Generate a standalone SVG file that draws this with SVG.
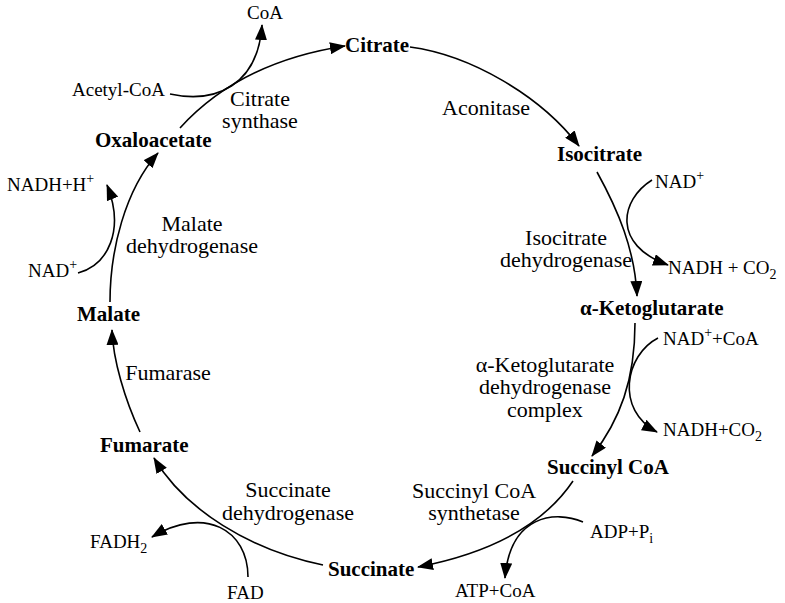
<svg xmlns="http://www.w3.org/2000/svg" width="785" height="603" viewBox="0 0 785 603">
<style>
text{font-family:"Liberation Serif","Times New Roman",serif;fill:#000}
.n{font-weight:bold;font-size:21px}
.e{font-size:22px;text-anchor:middle}
.s{font-size:19px}
.sub{font-size:14px}
path{fill:none;stroke:#000;stroke-width:1.6}
</style>
<defs>
<marker id="a" markerUnits="userSpaceOnUse" markerWidth="16" markerHeight="12" refX="15" refY="6" orient="auto">
<path d="M0,0 L16,6 L0,12 Z" style="fill:#000;stroke:none"/>
</marker>
</defs>
<rect width="785" height="603" fill="#fff"/>
<g id="connectors">
<path d="M180,128 Q240,62 345,46" marker-end="url(#a)"/>
<path d="M170,94 C216,104 258,85 262,25" marker-end="url(#a)"/>
<path d="M410,47 C470,55 540,95 579,146" marker-end="url(#a)"/>
<path d="M597,172 C618,210 635,250 637,296" marker-end="url(#a)"/>
<path d="M652,180 C620,200 612,245 668,265" marker-end="url(#a)"/>
<path d="M635,323 C635,380 620,420 592,456" marker-end="url(#a)"/>
<path d="M658,338 C625,355 615,410 657,432" marker-end="url(#a)"/>
<path d="M573,481 C540,530 480,555 418,567" marker-end="url(#a)"/>
<path d="M583,522 C555,510 510,515 505,578" marker-end="url(#a)"/>
<path d="M323,565 C250,550 185,510 154,458" marker-end="url(#a)"/>
<path d="M248,577 C248,530 205,505 152,537" marker-end="url(#a)"/>
<path d="M140,432 C125,400 113,360 112,330" marker-end="url(#a)"/>
<path d="M110,302 C110,250 125,190 158,153" marker-end="url(#a)"/>
<path d="M78,273 C108,265 125,230 107,185" marker-end="url(#a)"/>
</g>
<g id="citrate"><text class="n" x="345" y="52">Citrate</text></g>
<g id="isocitrate"><text class="n" x="557" y="161">Isocitrate</text></g>
<g id="akg"><text class="n" x="580" y="315">α-Ketoglutarate</text></g>
<g id="succinylcoa"><text class="n" x="547" y="474">Succinyl CoA</text></g>
<g id="succinate"><text class="n" x="328" y="576">Succinate</text></g>
<g id="fumarate"><text class="n" x="100" y="452">Fumarate</text></g>
<g id="malate"><text class="n" x="77" y="321">Malate</text></g>
<g id="oxaloacetate"><text class="n" x="95" y="147">Oxaloacetate</text></g>
<g id="enzymes">
<text class="e" x="260" y="106">Citrate</text>
<text class="e" x="260" y="128">synthase</text>
<text class="e" x="486" y="115">Aconitase</text>
<text class="e" x="566" y="245">Isocitrate</text>
<text class="e" x="566" y="267">dehydrogenase</text>
<text class="e" x="545" y="372">α-Ketoglutarate</text>
<text class="e" x="545" y="394">dehydrogenase</text>
<text class="e" x="545" y="417">complex</text>
<text class="e" x="474" y="498">Succinyl CoA</text>
<text class="e" x="474" y="520">synthetase</text>
<text class="e" x="288" y="497">Succinate</text>
<text class="e" x="288" y="520">dehydrogenase</text>
<text class="e" x="168" y="380">Fumarase</text>
<text class="e" x="192" y="231">Malate</text>
<text class="e" x="192" y="253">dehydrogenase</text>
</g>
<g id="cofactors">
<text class="s" x="72" y="96">Acetyl-CoA</text>
<text class="s" x="247" y="19">CoA</text>
<text class="s" x="655" y="188">NAD<tspan class="sub" dy="-8">+</tspan></text>
<text class="s" x="668" y="274">NADH + CO<tspan class="sub" dy="5">2</tspan></text>
<text class="s" x="663" y="345">NAD<tspan class="sub" dy="-8">+</tspan><tspan dy="8">+CoA</tspan></text>
<text class="s" x="663" y="436">NADH+CO<tspan class="sub" dy="5">2</tspan></text>
<text class="s" x="590" y="538">ADP+P<tspan class="sub" dy="5">i</tspan></text>
<text class="s" x="455" y="597">ATP+CoA</text>
<text class="s" x="227" y="599">FAD</text>
<text class="s" x="90" y="548">FADH<tspan class="sub" dy="5">2</tspan></text>
<text class="s" x="28" y="277">NAD<tspan class="sub" dy="-8">+</tspan></text>
<text class="s" x="7" y="191">NADH+H<tspan class="sub" dy="-8">+</tspan></text>
</g>
</svg>
